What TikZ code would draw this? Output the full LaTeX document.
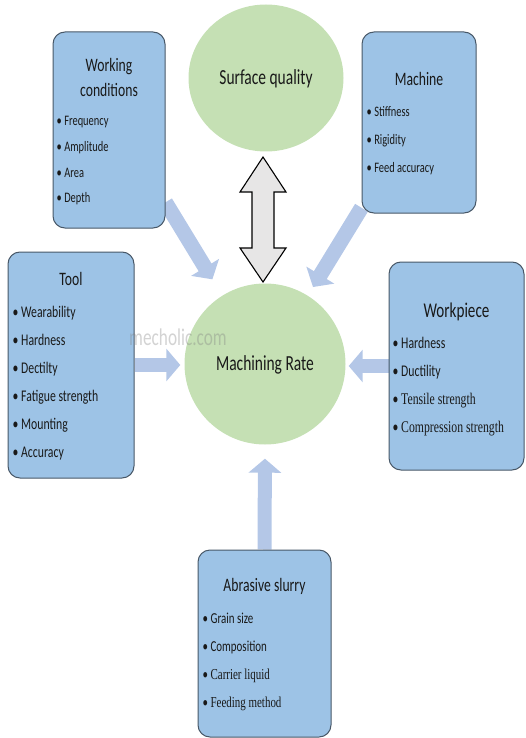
\documentclass[tikz,border=0pt]{standalone}
\usepackage{fontspec}
\setmainfont{Carlito}[FakeStretch=0.72]
\newfontfamily\itemserif{Liberation Serif}[FakeStretch=0.72]
\usetikzlibrary{arrows.meta,calc,shapes.geometric,backgrounds}
\definecolor{boxblue}{RGB}{157,195,230}
\definecolor{boxline}{RGB}{72,88,104}
\definecolor{leafgreen}{RGB}{197,224,180}
\definecolor{arrowblue}{RGB}{180,199,231}
\definecolor{twowaygray}{RGB}{231,230,230}
\definecolor{inktext}{RGB}{25,25,25}

\begin{document}
\begin{tikzpicture}[x=1pt,y=-1pt]
	% Set styles
	\tikzset{
		factor box/.style={draw=boxline, line width=1pt, fill=boxblue, rounded corners=12pt, inner sep=0pt},
		result circle/.style={fill=leafgreen, inner sep=0pt, text=inktext, text height=1.3em, text depth=0pt, font=\fontsize{21.5}{26}\selectfont},
		box title/.style={text=inktext, inner sep=0pt, text height=.64em, text depth=0pt, font=\fontsize{19}{23}\selectfont},
		box item/.style={text=inktext, inner sep=0pt, anchor=west, text height=.64em, text depth=0pt},
		feed/.style={draw=arrowblue, line width=15pt, -{Triangle[length=14pt,width=32pt]}},
		twoway/.style={draw=black, line width=1.1pt, fill=twowaygray, line join=miter}
	}
	\useasboundingbox (0,0) rectangle (525,738);
	
	% The two circles
	\node [result circle, ellipse, minimum width=155pt, minimum height=147pt] (sq) at (266,78) {Surface quality};
	\node [result circle, circle, minimum size=161pt] (mr) at (265,364) {Machining Rate};
	
	% The five boxes
	\node [factor box, minimum width=112pt, minimum height=196pt] (wc) at (109,130) {};
	\node [factor box, minimum width=114pt, minimum height=181pt] (mc) at (419,122.5) {};
	\node [factor box, minimum width=126pt, minimum height=226pt] (tool) at (71,365) {};
	\node [factor box, minimum width=135pt, minimum height=208pt] (wp) at (456.5,366) {};
	\node [factor box, minimum width=133pt, minimum height=187pt] (as) at (264.5,643.5) {};
	
	% Titles of the boxes
	\node [box title] (wc-t1) at ($(wc.north)+(0,37)$) {Working};
	\node [box title] (wc-t2) at ($(wc.north)+(0,62)$) {conditions};
	\node [box title] (mc-t) at ($(mc.north)+(0,51)$) {Machine};
	\node [box title] (tool-t) at ($(tool.north)+(0,31)$) {Tool};
	\node [box title, font=\fontsize{21}{25}\selectfont] (wp-t) at ($(wp.north)+(0,52.5)$) {Workpiece};
	\node [box title] (as-t) at ($(as.north)+(0,39)$) {Abrasive slurry};
	
	% Bullet lists
	\foreach \txt [count=\i] in {Frequency, Amplitude, Area, Depth}
		\node [box item, font=\fontsize{14.5}{17}\selectfont] (wc-\i) at ($(wc.north west)+(4,{65.3+25.7*\i})$) {• \txt};
	\foreach \txt [count=\i] in {Stiffness, Rigidity, Feed accuracy}
		\node [box item, font=\fontsize{14.5}{17}\selectfont] (mc-\i) at ($(mc.north west)+(5,{54+28*\i})$) {• \txt};
	\foreach \txt [count=\i] in {Wearability, Hardness, Dectilty, Fatigue strength, Mounting, Accuracy}
		\node [box item, font=\fontsize{16.3}{19}\selectfont] (tool-\i) at ($(tool.north west)+(5,{34.5+28*\i})$) {• \txt};
	\foreach \txt [count=\i] in {Hardness, Ductility, {\itemserif Tensile strength}, {\itemserif Compression strength}}
		\node [box item, font=\fontsize{16.3}{19}\selectfont] (wp-\i) at ($(wp.north west)+(4,{55.5+28*\i})$) {• \txt};
	\foreach \txt [count=\i] in {Grain size, Composition, {\itemserif Carrier liquid}, {\itemserif Feeding method}}
		\node [box item, font=\fontsize{15.2}{18}\selectfont] (as-\i) at ($(as.north west)+(5,{42.5+28*\i})$) {• \txt};
	
	% Arrows into the machining rate
	\begin{scope}[on background layer]
		\draw [feed, shorten >=19pt] (wc.-52) -- (mr.122);
		\draw [feed, shorten >=10pt] (mc.236) -- (mr.58);
		\draw [feed, line width=14pt, shorten >=4pt] (tool.east) -- (tool.east -| mr.west);
		\draw [feed, line width=14pt, shorten >=3pt] (wp.west) -- (wp.west -| mr.east);
		\draw [feed, line width=14pt, shorten >=14pt] (as.north) -- (mr.south);
	\end{scope}
	
	% Two-way arrow between the circles
	\coordinate (qm) at (263,219.5);
	\draw [twoway] ($(qm)+(0,-62.5)$) -- ++(23,35) -- ++(-12,0) -- ++(0,56) -- ++(12,0) -- ++(-23,34)
		-- ++(-23,-34) -- ++(12,0) -- ++(0,-56) -- ++(-12,0) -- cycle;
	
	% Watermark
	\node [text=gray, opacity=.35, font=\fontsize{24}{28}\selectfont] (wm) at (178,337) {mecholic.com};
\end{tikzpicture}
\end{document}
